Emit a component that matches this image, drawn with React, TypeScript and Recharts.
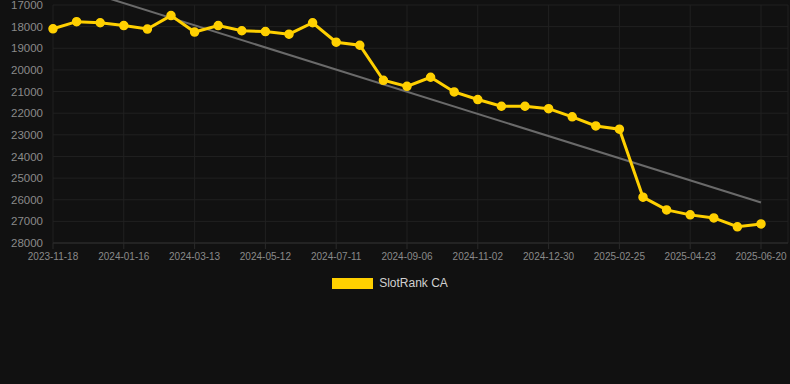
import { LineChart, Line, XAxis, YAxis, CartesianGrid, Legend, ReferenceLine } from 'recharts';

const dates = [
  '2023-11-18', '2023-12-08', '2023-12-27', '2024-01-16', '2024-02-04', '2024-02-23',
  '2024-03-13', '2024-04-02', '2024-04-22', '2024-05-12', '2024-06-01', '2024-06-21',
  '2024-07-11', '2024-07-30', '2024-08-18', '2024-09-06', '2024-09-25', '2024-10-14',
  '2024-11-02', '2024-11-21', '2024-12-10', '2024-12-30', '2025-01-18', '2025-02-06',
  '2025-02-25', '2025-03-16', '2025-04-04', '2025-04-23', '2025-05-12', '2025-06-01',
  '2025-06-20',
];

const rankCA = [
  18100, 17770, 17820, 17950, 18110, 17490, 18250, 17950, 18190, 18230, 18350, 17820,
  18720, 18860, 20480, 20760, 20340, 21020, 21370, 21680, 21680, 21790, 22170, 22590,
  22740, 25880, 26470, 26700, 26840, 27250, 27120,
];

const yTicks = [17000, 18000, 19000, 20000, 21000, 22000, 23000, 24000, 25000, 26000, 27000, 28000];

// trend line end points (first and last date)
const trendStart = 15890;
const trendEnd = 26130;

const data = dates.map((d, i) => ({ date: d, rank: rankCA[i] }));

const FONT = '"Liberation Sans", Arial, Helvetica, sans-serif';

function LegendBox() {
  return (
    <div
      style={{
        display: 'flex',
        justifyContent: 'center',
        alignItems: 'center',
        height: 20,
        paddingRight: 8,
        fontFamily: FONT,
        fontSize: 12,
        color: '#d0d0d0',
      }}
    >
      <span style={{ display: 'inline-block', width: 41, height: 11, background: '#FFD000', marginRight: 6 }} />
      <span>SlotRank CA</span>
    </div>
  );
}

export default function App() {
  return (
    <div style={{ position: 'absolute', left: 0, top: 0, width: 790, height: 384, background: '#111111' }}>
      <LineChart width={790} height={384} data={data} margin={{ top: 5, right: 2, left: 0, bottom: 91 }}>
        <CartesianGrid stroke="#212121" strokeWidth={1} />
        <XAxis
          dataKey="date"
          interval={2}
          padding={{ left: 0, right: 27 }}
          height={30}
          tick={{ fill: '#8a8a8a', fontSize: 10, fontFamily: FONT }}
          tickLine={{ stroke: '#2a2a2a' }}
          tickSize={6}
          tickMargin={4}
          axisLine={{ stroke: '#2e2e2e' }}
        />
        <YAxis
          reversed
          domain={[17000, 28000]}
          ticks={yTicks}
          interval={0}
          width={53}
          tick={{ fill: '#8a8a8a', fontSize: 11.5, fontFamily: FONT }}
          tickLine={false}
          axisLine={false}
          tickMargin={4}
        />
        <ReferenceLine
          segment={[
            { x: dates[0], y: trendStart },
            { x: dates[dates.length - 1], y: trendEnd },
          ]}
          stroke="#6a6a6a"
          strokeWidth={2}
          ifOverflow="visible"
        />
        <Line
          type="linear"
          dataKey="rank"
          name="SlotRank CA"
          stroke="#FFD000"
          strokeWidth={3}
          dot={{ r: 4, fill: '#FFD000', stroke: '#FFD000', strokeWidth: 1.5 }}
          isAnimationActive={false}
        />
        <Legend verticalAlign="bottom" content={() => <LegendBox />} />
      </LineChart>
    </div>
  );
}
